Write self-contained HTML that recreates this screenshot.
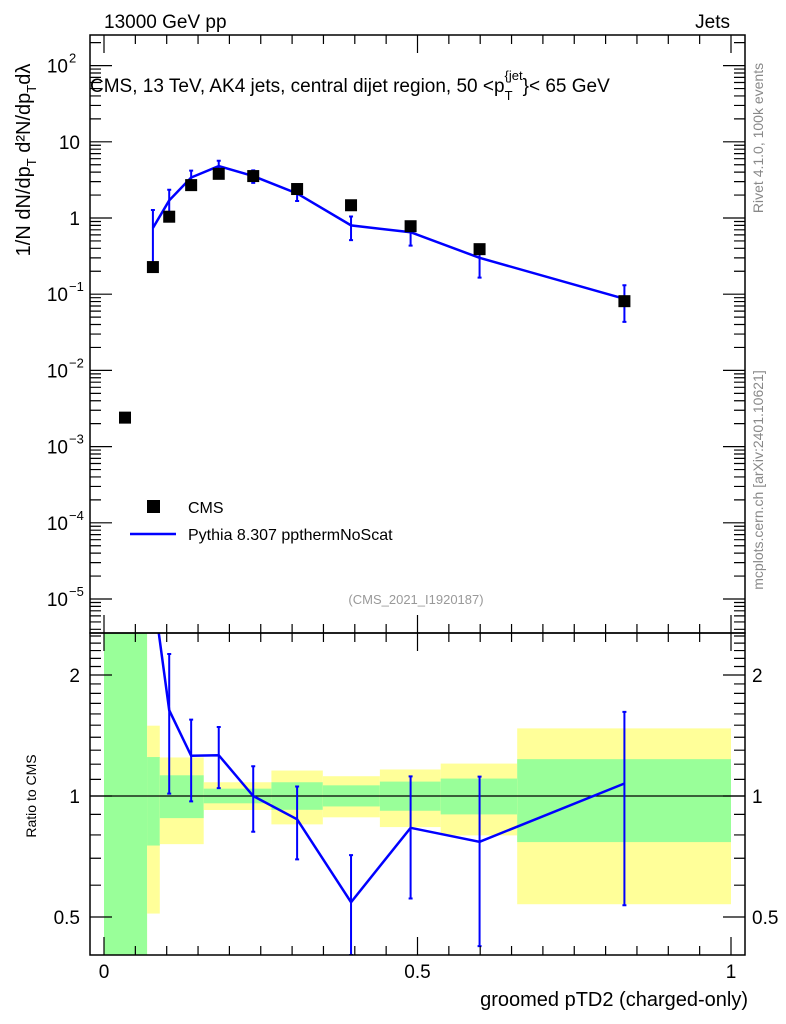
<!DOCTYPE html>
<html><head><meta charset="utf-8">
<style>
html,body{margin:0;padding:0;background:#fff;}
svg{display:block;font-family:"Liberation Sans",sans-serif;}
</style></head>
<body>
<svg id="chart" width="786" height="1024" viewBox="0 0 786 1024">
<g id="bands"></g>
<g id="marks"></g>
<g id="axes"></g>
<text x="104" y="28" font-size="19">13000 GeV pp</text>
<text x="730" y="28" font-size="19" text-anchor="end">Jets</text>
<text x="90" y="92" font-size="19">CMS, 13 TeV, AK4 jets, central dijet region, 50 &lt;p<tspan font-size="13" dy="8">T</tspan><tspan font-size="13" dy="-20" dx="-8">{jet</tspan><tspan dy="12">}&lt; 65 GeV</tspan></text>
<text transform="translate(30,160) rotate(-90)" font-size="20" text-anchor="middle">1/N dN/dp<tspan font-size="13" dy="6">T</tspan><tspan dy="-6"> d²N/dp</tspan><tspan font-size="13" dy="6">T</tspan><tspan dy="-6">dλ</tspan></text>
<text transform="translate(36,796) rotate(-90)" font-size="14" text-anchor="middle">Ratio to CMS</text>
<text x="748" y="1006" font-size="20" text-anchor="end">groomed pTD2 (charged-only)</text>
<text x="416" y="604" font-size="13" fill="#999" text-anchor="middle">(CMS_2021_I1920187)</text>
<text transform="translate(763,138) rotate(-90)" font-size="14" fill="#888" text-anchor="middle">Rivet 4.1.0,  100k events</text>
<text transform="translate(763,480) rotate(-90)" font-size="14" fill="#888" text-anchor="middle">mcplots.cern.ch [arXiv:2401.10621]</text>
<rect x="147" y="500" width="13" height="13" fill="#000"/>
<text x="188" y="513" font-size="16">CMS</text>
<line x1="130" y1="534" x2="176" y2="534" stroke="#00f" stroke-width="2.5"/>
<text x="188" y="540" font-size="16">Pythia 8.307 ppthermNoScat</text>
</svg>
<script>
const cmsX=[0.0335,0.078,0.104,0.139,0.183,0.238,0.308,0.394,0.489,0.599,0.83];
const cmsY=[0.0024,0.227,1.04,2.7,3.8,3.55,2.4,1.47,0.78,0.39,0.081];
const mcX=[0.078,0.104,0.139,0.183,0.238,0.308,0.394,0.489,0.599,0.83];
const mcY=[0.74,1.7,3.4,4.8,3.55,2.1,0.8,0.65,0.3,0.087];
const mcErrUp=[1.72,1.38,1.23,1.175,1.186,1.207,1.31,1.343,1.453,1.507];
const mcErrDn=[0.3,0.62,0.77,0.828,0.815,0.795,0.64,0.667,0.55,0.498];
const binEdges=[0,0.0687,0.089,0.159,0.267,0.349,0.44,0.537,0.659,1.0];
const yelHi=[3,1.496,1.247,1.082,1.157,1.12,1.164,1.204,1.473];
const yelLo=[0.3,0.51,0.759,0.923,0.85,0.885,0.837,0.798,0.538];
const grnHi=[3,1.25,1.126,1.043,1.082,1.063,1.086,1.105,1.235];
const grnLo=[0.3,0.753,0.881,0.959,0.924,0.942,0.919,0.9,0.768];
const xTicks=[0,0.5,1];const xTickLabels=["0","0.5","1"];
const yExp=[-5,-4,-3,-2,-1,0,1,2];
const yLabels=["10","10","10","10","10","1","10","10"];
const ySup=["−5","−4","−3","−2","−1","","","2"];
const rTicks=[2,1,0.5];const rLabels=["2","1","0.5"];

const NS="http://www.w3.org/2000/svg";
const L=90,R=745,T=35,M=633,B=955;
const X=v=>104+v*627;
const Y=v=>218-Math.log10(v)*76.2;
const RY=v=>Math.max(M,Math.min(B,796-Math.log10(v)*402));
function mk(tag,at,parent){const e=document.createElementNS(NS,tag);for(const k in at)e.setAttribute(k,at[k]);document.getElementById(parent).appendChild(e);return e;}

for(let i=0;i<binEdges.length-1;i++){
 const x1=X(binEdges[i]),x2=X(binEdges[i+1]);
 const y=mk('rect',{x:x1,y:RY(yelHi[i]),width:x2-x1,height:RY(yelLo[i])-RY(yelHi[i]),fill:'#ffff99'},'bands');
 
 
 const g=mk('rect',{x:x1,y:RY(grnHi[i]),width:x2-x1,height:RY(grnLo[i])-RY(grnHi[i]),fill:'#99ff99'},'bands');
 
 
}
const one=mk('line',{x1:L,x2:R,y1:RY(1),y2:RY(1),stroke:'#000','stroke-width':1.3},'bands');



const clip=mk('clipPath',{id:'cm'},'marks');mk('rect',{x:L,y:T,width:R-L,height:M-T},'cm');
const clip2=mk('clipPath',{id:'cr'},'marks');mk('rect',{x:L,y:M,width:R-L,height:B-M},'cr');
const pl=mk('polyline',{points:mcX.map((x,i)=>X(x)+','+Y(mcY[i])).join(' '),fill:'none',stroke:'#00f','stroke-width':2.5,'clip-path':'url(#cm)'},'marks');


mcX.forEach((x,i)=>{
 const e=mk('path',{d:`M${X(x)},${Y(mcY[i]*mcErrUp[i])}V${Y(mcY[i]*mcErrDn[i])}M${X(x)-2},${Y(mcY[i]*mcErrUp[i])}h4M${X(x)-2},${Y(mcY[i]*mcErrDn[i])}h4`,stroke:'#00f','stroke-width':2,fill:'none'},'marks');
 
 
});
cmsX.forEach((x,i)=>{
 const e=mk('rect',{x:X(x)-6,y:Y(cmsY[i])-6,width:12,height:12,fill:'#000'},'marks');
 
 
});
const ratio=mcX.map((x,i)=>mcY[i]/cmsY[cmsX.indexOf(x)]);
const rl=mk('polyline',{points:mcX.map((x,i)=>X(x)+','+(796-Math.log10(ratio[i])*402)).join(' '),fill:'none',stroke:'#00f','stroke-width':2.5,'clip-path':'url(#cr)'},'marks');


mcX.forEach((x,i)=>{
 if(ratio[i]>2.54)return;
 const a=RY(ratio[i]*mcErrUp[i]),b=RY(ratio[i]*mcErrDn[i]);
 const e=mk('path',{d:`M${X(x)},${a}V${b}M${X(x)-2},${a}h4M${X(x)-2},${b}h4`,stroke:'#00f','stroke-width':2,fill:'none','clip-path':'url(#cr)'},'marks');
 
 
});

let d='';
for(const e of yExp.concat([-6])){for(let k=1;k<10;k++){const y=Y(k*Math.pow(10,e));if(y<T||y>M)continue;const len=k==1?22:11;d+=`M${L},${y}h${len}M${R},${y}h${-len}`;}}
for(let t=0;t<=1.0001;t+=0.05){const x=X(t);const len=Math.abs(t*2-Math.round(t*2))<1e-6?18:9;d+=`M${x},${B}v${-len}M${x},${M}v${-len}M${x},${T}v${len}M${x},${M}v${len}`;}
for(let r=0.4;r<=2.5;r=Math.round((r+0.1)*10)/10){const y=RY(r);if(y<=M||y>=B)continue;const maj=rTicks.includes(r);const len=maj?22:11;d+=`M${L},${y}h${len}M${R},${y}h${-len}`;}
const ax=mk('path',{d:d,stroke:'#000','stroke-width':1.2,fill:'none'},'axes');


const f1=mk('rect',{x:L,y:T,width:R-L,height:M-T,fill:'none',stroke:'#000','stroke-width':1.5},'axes');


const f2=mk('rect',{x:L,y:M,width:R-L,height:B-M,fill:'none',stroke:'#000','stroke-width':1.5},'axes');


yExp.forEach((e,i)=>{
 const t=mk('text',{x:ySup[i]?68:80,y:Y(Math.pow(10,e))+7,'font-size':19,'text-anchor':'end'},'axes');
 t.textContent=yLabels[i];
 
 
 if(ySup[i]){const s=mk('text',{x:69,y:Y(Math.pow(10,e))-3,'font-size':13},'axes');s.textContent=ySup[i];
 
 }
});
rTicks.forEach((r,i)=>{
 for(const [x,anc] of [[80,'end'],[752,'start']]){
 const t=mk('text',{x:x,y:RY(r)+7,'font-size':19,'text-anchor':anc},'axes');t.textContent=rLabels[i];
 
 }
});
xTicks.forEach((v,i)=>{
 const t=mk('text',{x:X(v),y:978,'font-size':19,'text-anchor':'middle'},'axes');t.textContent=xTickLabels[i];
 
 
});
</script>
</body></html>
